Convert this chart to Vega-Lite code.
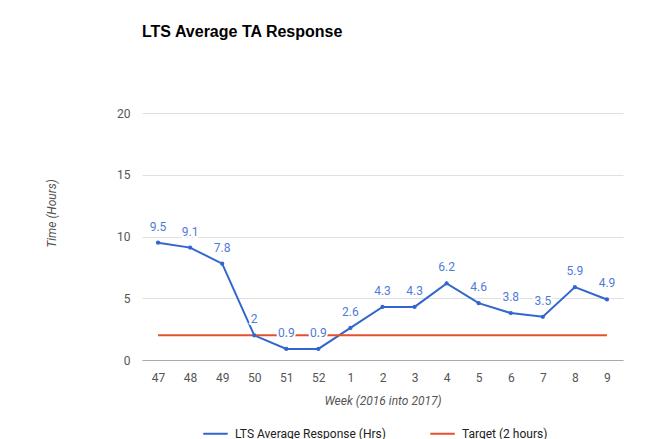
{
  "$schema": "https://vega.github.io/schema/vega-lite/v6.json",
  "width": 481,
  "height": 247,
  "autosize": "none",
  "padding": {"left": 142, "top": 113, "right": 30, "bottom": 79},
  "background": "white",
  "title": {
    "text": "LTS Average TA Response",
    "anchor": "start",
    "frame": "group",
    "font": "Liberation Sans",
    "fontSize": 16,
    "fontWeight": "bold",
    "color": "#000000",
    "offset": 67
  },
  "config": {"view": {"stroke": null}},
  "data": {
    "values": [
      {"week": "47", "series": "LTS Average Response (Hrs)", "value": 9.5},
      {"week": "48", "series": "LTS Average Response (Hrs)", "value": 9.1},
      {"week": "49", "series": "LTS Average Response (Hrs)", "value": 7.8},
      {"week": "50", "series": "LTS Average Response (Hrs)", "value": 2},
      {"week": "51", "series": "LTS Average Response (Hrs)", "value": 0.9},
      {"week": "52", "series": "LTS Average Response (Hrs)", "value": 0.9},
      {"week": "1", "series": "LTS Average Response (Hrs)", "value": 2.6},
      {"week": "2", "series": "LTS Average Response (Hrs)", "value": 4.3},
      {"week": "3", "series": "LTS Average Response (Hrs)", "value": 4.3},
      {"week": "4", "series": "LTS Average Response (Hrs)", "value": 6.2},
      {"week": "5", "series": "LTS Average Response (Hrs)", "value": 4.6},
      {"week": "6", "series": "LTS Average Response (Hrs)", "value": 3.8},
      {"week": "7", "series": "LTS Average Response (Hrs)", "value": 3.5},
      {"week": "8", "series": "LTS Average Response (Hrs)", "value": 5.9},
      {"week": "9", "series": "LTS Average Response (Hrs)", "value": 4.9},
      {"week": "47", "series": "Target (2 hours)", "value": 2},
      {"week": "48", "series": "Target (2 hours)", "value": 2},
      {"week": "49", "series": "Target (2 hours)", "value": 2},
      {"week": "50", "series": "Target (2 hours)", "value": 2},
      {"week": "51", "series": "Target (2 hours)", "value": 2},
      {"week": "52", "series": "Target (2 hours)", "value": 2},
      {"week": "1", "series": "Target (2 hours)", "value": 2},
      {"week": "2", "series": "Target (2 hours)", "value": 2},
      {"week": "3", "series": "Target (2 hours)", "value": 2},
      {"week": "4", "series": "Target (2 hours)", "value": 2},
      {"week": "5", "series": "Target (2 hours)", "value": 2},
      {"week": "6", "series": "Target (2 hours)", "value": 2},
      {"week": "7", "series": "Target (2 hours)", "value": 2},
      {"week": "8", "series": "Target (2 hours)", "value": 2},
      {"week": "9", "series": "Target (2 hours)", "value": 2}
    ]
  },
  "encoding": {
    "x": {
      "field": "week",
      "type": "ordinal",
      "sort": ["47", "48", "49", "50", "51", "52", "1", "2", "3", "4", "5", "6", "7", "8", "9"],
      "scale": {"type": "point", "padding": 0.5},
      "axis": {
        "title": "Week (2016 into 2017)",
        "titleFont": "Roboto",
        "titleFontSize": 12,
        "titleFontStyle": "italic",
        "titleFontWeight": "normal",
        "titleColor": "#555555",
        "titlePadding": 12,
        "labelFont": "Roboto",
        "labelFontSize": 12,
        "labelColor": "#555555",
        "labelAngle": 0,
        "labelPadding": 12,
        "ticks": false,
        "domain": true,
        "domainColor": "#aaaaaa",
        "grid": false
      }
    },
    "y": {
      "field": "value",
      "type": "quantitative",
      "scale": {"domain": [0, 20]},
      "axis": {
        "title": "Time (Hours)",
        "titleFont": "Roboto",
        "titleFontSize": 12,
        "titleFontStyle": "italic",
        "titleFontWeight": "normal",
        "titleColor": "#555555",
        "titleX": -84,
        "titleY": 100,
        "values": [0, 5, 10, 15, 20],
        "labelFont": "Roboto",
        "labelFontSize": 12,
        "labelColor": "#555555",
        "labelPadding": 12,
        "ticks": false,
        "domain": false,
        "grid": true,
        "gridColor": "#e0e0e0"
      }
    }
  },
  "layer": [
    {
      "mark": {"type": "line", "strokeWidth": 2},
      "encoding": {
        "color": {
          "field": "series",
          "type": "nominal",
          "sort": ["LTS Average Response (Hrs)", "Target (2 hours)"],
          "scale": {"domain": ["LTS Average Response (Hrs)", "Target (2 hours)"], "range": ["#3366cc", "#e6502e"]},
          "legend": {
            "title": null,
            "orient": "none",
            "direction": "horizontal",
            "legendX": 60,
            "legendY": 307,
            "symbolType": "stroke",
            "symbolSize": 600,
            "symbolStrokeWidth": 2,
            "labelFont": "Roboto",
            "labelFontSize": 12,
            "labelColor": "#222222",
            "columnPadding": 40,
            "labelOffset": 6
          }
        },
        "order": {"field": "series"}
      }
    },
    {
      "transform": [{"filter": "datum.series === 'LTS Average Response (Hrs)'"}],
      "mark": {"type": "point", "filled": true, "size": 18, "color": "#3366cc", "opacity": 1}
    },
    {
      "transform": [{"filter": "datum.series === 'LTS Average Response (Hrs)'"}],
      "mark": {"type": "text", "baseline": "bottom", "dy": -9, "font": "Roboto", "fontSize": 12, "stroke": "white", "strokeWidth": 4, "fill": "white"},
      "encoding": {"text": {"field": "value", "type": "quantitative"}}
    },
    {
      "transform": [{"filter": "datum.series === 'LTS Average Response (Hrs)'"}],
      "mark": {"type": "text", "baseline": "bottom", "dy": -9, "font": "Roboto", "fontSize": 12, "color": "#4f7bd8"},
      "encoding": {"text": {"field": "value", "type": "quantitative"}}
    }
  ]
}
